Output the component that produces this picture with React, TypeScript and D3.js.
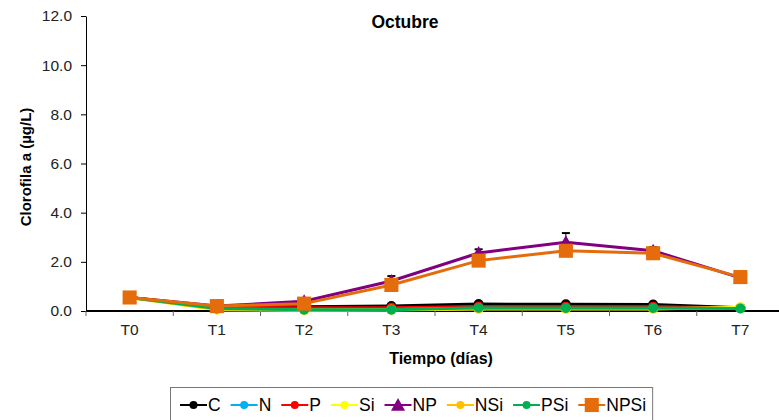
import React, { useEffect, useRef } from "react";
import * as d3 from "d3";

const categories = ["T0", "T1", "T2", "T3", "T4", "T5", "T6", "T7"];
const yTicks = [0, 2, 4, 6, 8, 10, 12];

const seriesNames = ["C", "N", "P", "Si", "NP", "NSi", "PSi", "NPSi"];
const seriesColors = ["#000000", "#00B0F0", "#FF0000", "#FFFF00", "#800080", "#FFC000", "#00B050", "#E46C0A"];
const seriesMarkers = ["circle", "circle", "circle", "circle", "triangle", "circle", "circle", "square"];

const C = [0.55, 0.15, 0.17, 0.2, 0.28, 0.27, 0.26, 0.13];
const N = [0.55, 0.12, 0.1, 0.1, 0.15, 0.15, 0.15, 0.12];
const P = [0.55, 0.15, 0.13, 0.13, 0.18, 0.17, 0.17, 0.12];
const Si = [0.55, 0.05, 0.03, 0.04, 0.08, 0.08, 0.08, 0.15];
const NP = [0.55, 0.2, 0.4, 1.22, 2.36, 2.8, 2.45, 1.35];
const NSi = [0.55, 0.07, 0.05, 0.06, 0.1, 0.1, 0.1, 0.1];
const PSi = [0.55, 0.1, 0.05, 0.05, 0.13, 0.12, 0.12, 0.1];
const NPSi = [0.55, 0.2, 0.3, 1.06, 2.05, 2.45, 2.35, 1.38];
const NPErr = [0, 0, 0.05, 0.2, 0.15, 0.37, 0.15, 0];

const seriesValues = [C, N, P, Si, NP, NSi, PSi, NPSi];

export default function App() {
  const ref = useRef<SVGSVGElement | null>(null);

  useEffect(() => {
    const svg = d3.select(ref.current);
    svg.selectAll("*").remove();
    const font = "'Liberation Sans', Arial, sans-serif";

    const x = d3.scaleBand<string>().domain(categories).range([86, 784]).padding(0);
    const y = d3.scaleLinear().domain([0, 12]).range([311, 16]);
    const cx = (c: string) => (x(c) as number) + x.bandwidth() / 2;

    // Title
    svg.append("text").attr("x", 405).attr("y", 28).attr("text-anchor", "middle")
      .attr("font-family", font).attr("font-weight", "bold").attr("font-size", 17.5).text("Octubre");

    // Y axis
    const yAxis = svg.append("g").attr("transform", "translate(86,0)")
      .call(d3.axisLeft(y).tickValues(yTicks).tickFormat(d3.format(".1f")).tickSize(5).tickSizeOuter(0));
    yAxis.select(".domain").attr("stroke", "#000").attr("stroke-width", 1);
    yAxis.selectAll(".tick line").attr("stroke", "#000");
    yAxis.selectAll(".tick text").attr("font-family", font).attr("font-size", 15.5).attr("fill", "#222").attr("x", -14);

    // X axis
    const xAxis = svg.append("g").attr("transform", "translate(0,311)");
    xAxis.append("line").attr("x1", 86).attr("x2", 784).attr("y1", 0).attr("y2", 0).attr("stroke", "#000").attr("stroke-width", 2);
    categories.forEach((c) => {
      const bx = x(c) as number;
      xAxis.append("line").attr("x1", bx).attr("x2", bx).attr("y1", 0).attr("y2", 5).attr("stroke", "#666");
      xAxis.append("text").attr("x", cx(c)).attr("y", 24).attr("text-anchor", "middle")
        .attr("font-family", font).attr("font-size", 15.5).attr("fill", "#222").text(c);
    });

    svg.append("text").attr("x", 441).attr("y", 364).attr("text-anchor", "middle")
      .attr("font-family", font).attr("font-weight", "bold").attr("font-size", 16).text("Tiempo (días)");

    svg.append("text").attr("transform", "translate(31,167) rotate(-90)").attr("text-anchor", "middle")
      .attr("font-family", font).attr("font-weight", "bold").attr("font-size", 15).text("Clorofila a (µg/L)");

    const drawMarker = (g: any, type: string, px: number, py: number, color: string, size: number) => {
      if (type === "circle") {
        g.append("circle").attr("cx", px).attr("cy", py).attr("r", size).attr("fill", color);
      } else if (type === "square") {
        g.append("rect").attr("x", px - size * 1.6).attr("y", py - size * 1.6).attr("width", size * 3.2).attr("height", size * 3.2).attr("fill", color);
      } else {
        const s = size * 1.6;
        g.append("path").attr("d", `M${px},${py - s} L${px + s},${py + s * 0.8} L${px - s},${py + s * 0.8} Z`).attr("fill", color);
      }
    };

    const line = d3.line<number>().x((_, i) => cx(categories[i])).y((d) => y(d));

    // error bars for NP
    const eg = svg.append("g");
    NP.forEach((v, i) => {
      if (NPErr[i] <= 0) return;
      const px = cx(categories[i]);
      eg.append("line").attr("x1", px).attr("x2", px).attr("y1", y(v)).attr("y2", y(v + NPErr[i])).attr("stroke", "#000").attr("stroke-width", 1);
      eg.append("line").attr("x1", px - 4).attr("x2", px + 4).attr("y1", y(v + NPErr[i])).attr("y2", y(v + NPErr[i])).attr("stroke", "#000").attr("stroke-width", 2);
    });

    seriesValues.forEach((vals, si) => {
      const g = svg.append("g");
      g.append("path").attr("d", line(vals) as string).attr("fill", "none")
        .attr("stroke", seriesColors[si]).attr("stroke-width", 3);
      vals.forEach((v, i) => drawMarker(g, seriesMarkers[si], cx(categories[i]), y(v), seriesColors[si], seriesMarkers[si] === "circle" ? 5 : 4.4));
    });

    // Legend
    const lg = svg.append("g");
    const box = lg.append("rect").attr("x", 170.5).attr("y", 387.5).attr("height", 40).attr("fill", "#fff").attr("stroke", "#777");
    let lx = 180;
    seriesNames.forEach((name, si) => {
      const ly = 405;
      lg.append("line").attr("x1", lx).attr("x2", lx + 27).attr("y1", ly).attr("y2", ly).attr("stroke", seriesColors[si]).attr("stroke-width", 2);
      drawMarker(lg, seriesMarkers[si], lx + 13.5, ly, seriesColors[si], seriesMarkers[si] === "circle" ? 4 : 4.4);
      const t = lg.append("text").attr("x", lx + 28).attr("y", 411).attr("font-family", font).attr("font-size", 17.5).text(name);
      const w = (t.node() as SVGTextElement).getComputedTextLength();
      lx = lx + 28 + w + 10;
    });
    box.attr("width", lx - 10 + 6 - 170);
  }, []);

  return <svg ref={ref} width={779} height={420} style={{ display: "block", position: "absolute", left: 0, top: 0 }} />;
}
